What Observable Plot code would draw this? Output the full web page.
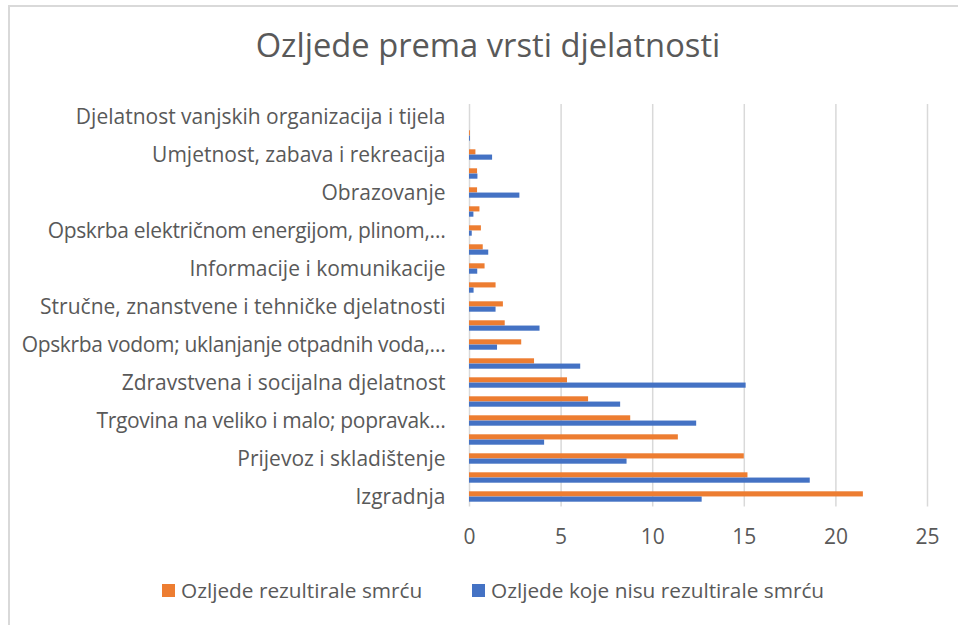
<!DOCTYPE html>
<html>
<head>
<meta charset="utf-8">
<script src="https://cdn.jsdelivr.net/npm/d3@7"></script>
<script src="https://cdn.jsdelivr.net/npm/@observablehq/plot@0.6"></script>
<style>
  html, body { margin: 0; padding: 0; background: #fff; overflow: hidden; width: 958px; height: 625px; }
  #wrap { position: relative; width: 958px; height: 625px; font-family: "Open Sans", Lato, sans-serif; color: #595959; }
  #frame { position: absolute; left: 8px; top: 5px; width: 1000px; height: 700px; border: 2px solid #d9d9d9; box-sizing: border-box; }
  #chart { position: absolute; left: 0; top: 0; }
  #title { position: absolute; left: 9px; width: 958px; top: 24.5px; text-align: center; font-size: 32.7px; line-height: 40px; white-space: nowrap; }
  .sw { position: absolute; top: 584px; width: 13px; height: 13px; }
  .lt { position: absolute; top: 580px; font-size: 20.8px; line-height: 20px; white-space: nowrap; }
</style>
</head>
<body>
<div id="wrap">
  <div id="frame"></div>
  <div id="chart"></div>
  <div id="title"></div>
  <div id="legend"></div>
</div>
<script>
// Categories, bottom (Izgradnja) to top
const categories = [
  "Izgradnja",
  "Prerađivačka industrija",
  "Prijevoz i skladištenje",
  "Poljoprivreda, šumarstvo i ribarstvo",
  "Trgovina na veliko i malo; popravak…",
  "Administrativne i pomoćne uslužne djelatnosti",
  "Zdravstvena i socijalna djelatnost",
  "Javna uprava i obrana; obvezno socijalno osiguranje",
  "Opskrba vodom; uklanjanje otpadnih voda,…",
  "Djelatnosti pružanja smještaja te pripreme i usluživanja hrane",
  "Stručne, znanstvene i tehničke djelatnosti",
  "Rudarstvo i vađenje",
  "Informacije i komunikacije",
  "Ostale uslužne djelatnosti",
  "Opskrba električnom energijom, plinom,…",
  "Poslovanje nekretninama",
  "Obrazovanje",
  "Financijske djelatnosti i djelatnosti osiguranja",
  "Umjetnost, zabava i rekreacija",
  "Djelatnosti kućanstava",
  "Djelatnost vanjskih organizacija i tijela"
];
// Only every other category label is shown on the axis
const shownLabels = categories.filter((d, i) => i % 2 === 0);

const seriesNames = ["Ozljede rezultirale smrću", "Ozljede koje nisu rezultirale smrću"];
const seriesColors = ["#ED7D31", "#4472C4"];

const fatal =    [21.5, 15.2, 15.0, 11.4, 8.8, 6.5, 5.35, 3.55, 2.85, 1.95, 1.85, 1.45, 0.85, 0.75, 0.65, 0.57, 0.44, 0.44, 0.35, 0.05, 0];
const nonFatal = [12.7, 18.6, 8.6, 4.1, 12.4, 8.25, 15.1, 6.07, 1.53, 3.85, 1.45, 0.25, 0.45, 1.05, 0.15, 0.24, 2.75, 0.46, 1.26, 0.05, 0];

const xTicks = [0, 5, 10, 15, 20, 25];

const rows = [];
categories.forEach((c, i) => {
  rows.push({category: c, series: seriesNames[0], value: fatal[i]});
  rows.push({category: c, series: seriesNames[1], value: nonFatal[i]});
});

const W = 958, H = 560;
const plot = Plot.plot({
  width: W,
  height: H,
  marginLeft: 469,
  marginRight: 31,
  marginTop: 105.5,
  marginBottom: 53.5,
  style: {background: "transparent", color: "#595959", fontFamily: "'Open Sans', Lato, sans-serif", fontSize: "21px"},
  x: {domain: [0, 25], label: null},
  y: {domain: categories.slice().reverse(), padding: 0, label: null},
  color: {domain: seriesNames, range: seriesColors},
  marks: [
    Plot.gridX(xTicks, {stroke: "#d9d9d9", strokeOpacity: 1, strokeWidth: 1.5, insetTop: -1.5, insetBottom: 0}),
    Plot.barX(rows.filter(d => d.series === seriesNames[0]), {
      y: "category", x: "value", fill: "series", insetTop: 4.3, insetBottom: 9.55
    }),
    Plot.barX(rows.filter(d => d.series === seriesNames[1]), {
      y: "category", x: "value", fill: "series", insetTop: 9.55, insetBottom: 4.3
    }),
    Plot.axisX({ticks: xTicks, tickSize: 0, tickPadding: 22.5, label: null}),
    Plot.axisY({ticks: shownLabels, tickSize: 0, tickPadding: 24, label: null})
  ]
});
// Truncated labels use a tighter ellipsis in the original; tighten them slightly
d3.select(plot).selectAll("text").each(function() {
  if (this.textContent.endsWith("…")) this.setAttribute("letter-spacing", "-0.33");
});
document.getElementById("chart").appendChild(plot);

document.getElementById("title").textContent = "Ozljede prema vrsti djelatnosti";

const legend = document.getElementById("legend");
const legendX = [162, 472];
seriesNames.forEach((name, i) => {
  const sw = document.createElement("div");
  sw.className = "sw";
  sw.style.left = legendX[i] + "px";
  sw.style.background = seriesColors[i];
  legend.appendChild(sw);
  const t = document.createElement("div");
  t.className = "lt";
  t.style.left = (legendX[i] + 19) + "px";
  t.textContent = name;
  legend.appendChild(t);
});
</script>
</body>
</html>
